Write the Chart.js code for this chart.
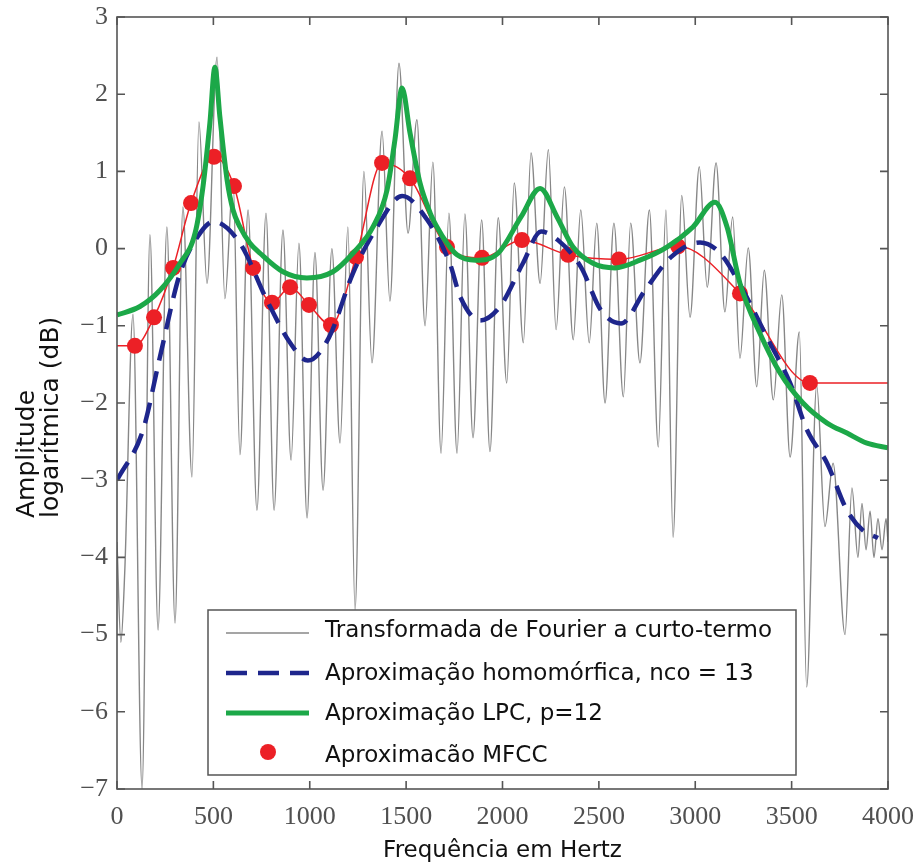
<!DOCTYPE html>
<html>
<head>
<meta charset="utf-8">
<script src="https://cdn.jsdelivr.net/npm/chart.js@4.4.1/dist/chart.umd.min.js"></script>
<style>
  html, body { margin: 0; padding: 0; background: #fff; }
  #wrap { width: 920px; height: 863px; position: relative; }
</style>
</head>
<body>
<div id="wrap"><canvas id="chart"></canvas></div>
<script>
// short-time Fourier transform (harmonic peaks and valleys)
const stftHz = [0, 20, 40, 83, 130, 171, 213, 259, 301, 342, 389, 425, 467, 519, 560, 602, 638, 680, 726, 773,
  815, 861, 903, 944, 986, 1027, 1069, 1115, 1157, 1198, 1235, 1281, 1323, 1375, 1416, 1463, 1510, 1556, 1598, 1639,
  1681, 1722, 1764, 1805, 1847, 1892, 1935, 1978, 2022, 2061, 2108, 2148, 2195, 2238, 2278, 2321, 2367, 2406, 2450, 2489,
  2532, 2578, 2627, 2665, 2713, 2762, 2808, 2848, 2885, 2930, 2973, 3021, 3062, 3108, 3154, 3194, 3232, 3275, 3319, 3358,
  3405, 3449, 3492, 3540, 3578, 3630, 3673, 3715, 3777, 3813, 3844, 3865, 3886, 3907, 3927, 3948, 3969, 3990, 4000];
const stftDb = [-3.8, -5.1, -4.2, -0.85, -7.0, 0.18, -4.94, 0.28, -4.85, 0.54, -2.96, 1.64, -0.45, 2.48, -0.65, 0.89, -2.67, 0.50, -3.39, 0.46,
  -3.39, 0.24, -2.74, 0.07, -3.49, -0.05, -3.13, 0.0, -2.52, 0.28, -4.68, 1.0, -1.48, 1.52, -0.68, 2.4, 0.2, 1.67, -1.0, 1.12,
  -2.65, 0.46, -2.65, 0.45, -2.45, 0.37, -2.63, 0.40, -1.74, 0.85, -1.22, 1.24, -0.45, 1.28, -1.05, 0.80, -1.18, 0.50, -1.22, 0.33,
  -2.0, 0.33, -1.92, 0.33, -1.48, 0.50, -2.57, 0.50, -3.74, 0.69, -0.89, 1.06, -0.50, 1.11, -0.82, 0.41, -1.42, 0.01, -1.79, -0.28,
  -1.96, -0.60, -2.70, -1.08, -5.68, -1.77, -3.6, -2.78, -5.0, -3.1, -4.0, -3.3, -3.9, -3.4, -4.0, -3.5, -3.9, -3.5, -3.8];

// homomorphic approximation, nco = 13
const homHz = [0, 135, 223, 327, 431, 500, 638, 778, 898, 990, 1100, 1224, 1349, 1480, 1610, 1728, 1780, 1883, 1987, 2106,
  2200, 2288, 2407, 2511, 2615, 2739, 2874, 3025, 3129, 3248, 3372, 3492, 3580, 3684, 3787, 3870, 3948];
const homDb = [-3.0, -2.35, -1.40, -0.32, 0.20, 0.35, 0.07, -0.67, -1.22, -1.45, -1.15, -0.32, 0.28, 0.68, 0.37, -0.20, -0.62, -0.93, -0.75, -0.19,
  0.22, 0.11, -0.24, -0.80, -0.97, -0.54, -0.11, 0.08, -0.06, -0.54, -1.15, -1.74, -2.35, -2.78, -3.39, -3.65, -3.75];

// LPC approximation, p = 12
const lpcHz = [0, 119, 223, 327, 405, 446, 482, 508, 534, 571, 602, 638, 690, 742, 861, 985, 1120, 1224, 1328, 1401,
  1442, 1479, 1520, 1572, 1625, 1660, 1712, 1764, 1860, 1977, 2096, 2195, 2283, 2366, 2469, 2584, 2713, 2853, 2988, 3102,
  3165, 3232, 3336, 3440, 3559, 3684, 3787, 3891, 4000];
const lpcDb = [-0.86, -0.75, -0.54, -0.19, 0.20, 0.80, 1.63, 2.35, 1.70, 0.89, 0.50, 0.28, 0.07, -0.06, -0.30, -0.38, -0.30, -0.06, 0.28, 0.76,
  1.41, 2.08, 1.50, 0.85, 0.46, 0.28, 0.07, -0.08, -0.15, -0.06, 0.41, 0.78, 0.41, 0.02, -0.19, -0.25, -0.15, 0.02, 0.28, 0.60,
  0.28, -0.45, -1.10, -1.61, -2.0, -2.26, -2.39, -2.52, -2.58];

// MFCC approximation (first and last entries only extend the line to the edges)
const mfccHz = [0, 93, 192, 291, 384, 503, 607, 706, 804, 898, 996, 1110, 1240, 1375, 1520, 1712, 1894, 2101, 2340, 2604,
  2911, 3232, 3595, 4000];
const mfccDb = [-1.26, -1.26, -0.89, -0.25, 0.59, 1.19, 0.81, -0.25, -0.70, -0.50, -0.73, -0.99, -0.11, 1.11, 0.91, 0.02, -0.12, 0.11, -0.08, -0.14,
  0.03, -0.58, -1.74, -1.74];

const labels = [
  'Transformada de Fourier a curto-termo',
  'Aproximação homomórfica, nco = 13',
  'Aproximação LPC, p=12',
  'Aproximacão MFCC'
];
const xTitle = 'Frequência em Hertz';
const yTitle = ['Amplitude', 'logarítmica (dB)'];

const SANS = '"DejaVu Sans", Verdana, sans-serif';
const SERIF = '"Liberation Serif", "Times New Roman", serif';

function pts(xs, ys) {
  return xs.map((x, i) => ({ x: x, y: ys[i] }));
}

// frame with inward ticks, boxed legend, two-line y title
const frame = {
  id: 'frame',
  afterDatasetsDraw(chart) {
    const ctx = chart.ctx;
    const a = chart.chartArea;
    const sx = chart.scales.x, sy = chart.scales.y;
    ctx.save();

    // legend box
    const bx = a.left + 91, by = a.top + 593, bw = 588, bh = 165;
    ctx.fillStyle = '#fff';
    ctx.fillRect(bx, by, bw, bh);
    ctx.strokeStyle = '#555';
    ctx.lineWidth = 1.5;
    ctx.strokeRect(bx, by, bw, bh);
    const rows = [23, 63, 103, 142];
    const textRows = [21, 64, 104, 146];
    chart.data.datasets.forEach((ds, i) => {
      const y = by + rows[i];
      if (ds.pointStyleOnly) {
        ctx.fillStyle = ds.pointBackgroundColor;
        ctx.beginPath();
        ctx.arc(bx + 60, y, 8, 0, Math.PI * 2);
        ctx.fill();
      } else {
        ctx.strokeStyle = ds.borderColor;
        ctx.lineWidth = ds.borderWidth;
        ctx.setLineDash(ds.borderDash || []);
        ctx.beginPath();
        ctx.moveTo(bx + 18, y);
        ctx.lineTo(bx + 101, y);
        ctx.stroke();
        ctx.setLineDash([]);
      }
      ctx.fillStyle = '#111';
      ctx.font = '23px ' + SANS;
      ctx.textAlign = 'left';
      ctx.textBaseline = 'middle';
      ctx.fillText(ds.label, bx + 117, by + textRows[i]);
    });

    // frame
    ctx.strokeStyle = '#555';
    ctx.lineWidth = 1.6;
    ctx.strokeRect(a.left, a.top, a.right - a.left, a.bottom - a.top);
    ctx.beginPath();
    sx.ticks.forEach(t => {
      const px = sx.getPixelForValue(t.value);
      ctx.moveTo(px, a.bottom); ctx.lineTo(px, a.bottom - 8);
      ctx.moveTo(px, a.top); ctx.lineTo(px, a.top + 8);
    });
    sy.ticks.forEach(t => {
      const py = sy.getPixelForValue(t.value);
      ctx.moveTo(a.left, py); ctx.lineTo(a.left + 8, py);
      ctx.moveTo(a.right, py); ctx.lineTo(a.right - 8, py);
    });
    ctx.stroke();

    // y title, start-aligned, rotated
    ctx.fillStyle = '#111';
    ctx.font = '25px ' + SANS;
    ctx.textAlign = 'left';
    ctx.textBaseline = 'middle';
    ctx.translate(27, 518);
    ctx.rotate(-Math.PI / 2);
    ctx.fillText(yTitle[0], 0, 0);
    ctx.fillText(yTitle[1], 0, 24);
    ctx.restore();
  }
};

const minus = v => (v < 0 ? '\u2212' + Math.abs(v) : String(v));

new Chart(document.getElementById('chart').getContext('2d'), {
  type: 'line',
  data: {
    datasets: [
      {
        label: labels[0],
        data: pts(stftHz, stftDb),
        borderColor: 'rgb(135,135,135)',
        borderWidth: 1.4,
        pointRadius: 0,
        cubicInterpolationMode: 'monotone',
        order: 4
      },
      {
        label: labels[1],
        data: pts(homHz, homDb),
        borderColor: 'rgb(30,38,140)',
        borderWidth: 4.5,
        borderDash: [21, 11],
        pointRadius: 0,
        cubicInterpolationMode: 'monotone',
        order: 2
      },
      {
        label: labels[2],
        data: pts(lpcHz, lpcDb),
        borderColor: 'rgb(28,168,72)',
        borderWidth: 5,
        pointRadius: 0,
        cubicInterpolationMode: 'monotone',
        order: 1
      },
      {
        label: labels[3],
        data: pts(mfccHz, mfccDb),
        borderColor: 'rgb(236,32,38)',
        borderWidth: 1.5,
        pointBackgroundColor: 'rgb(236,32,38)',
        pointBorderWidth: 0,
        pointRadius: c => (c.dataIndex === 0 || c.dataIndex === mfccHz.length - 1) ? 0 : 8,
        cubicInterpolationMode: 'monotone',
        pointStyleOnly: true,
        order: 3
      }
    ]
  },
  options: {
    responsive: true,
    maintainAspectRatio: false,
    animation: false,
    events: [],
    layout: { padding: { top: 17, right: 32, left: 0, bottom: 0 } },
    plugins: { legend: { display: false }, tooltip: { enabled: false } },
    scales: {
      x: {
        type: 'linear',
        min: 0,
        max: 4000,
        afterFit: s => { s.height = 74; s.paddingLeft = 0; s.paddingRight = 0; },
        grid: { display: false, drawTicks: false },
        border: { display: false },
        ticks: {
          stepSize: 500,
          autoSkip: false,
          maxRotation: 0,
          padding: 13,
          color: '#505050',
          font: { family: SERIF, size: 26 },
          callback: v => String(v)
        },
        title: {
          display: true,
          text: xTitle,
          color: '#111',
          font: { family: SANS, size: 23 },
          padding: { top: 0, bottom: -2 }
        }
      },
      y: {
        min: -7,
        max: 3,
        afterFit: s => { s.width = 117; s.paddingTop = 0; s.paddingBottom = 0; },
        grid: { display: false, drawTicks: false },
        border: { display: false },
        ticks: {
          stepSize: 1,
          padding: 9,
          color: '#505050',
          font: { family: SERIF, size: 26 },
          callback: v => minus(v)
        }
      }
    }
  },
  plugins: [frame]
});
</script>
</body>
</html>
